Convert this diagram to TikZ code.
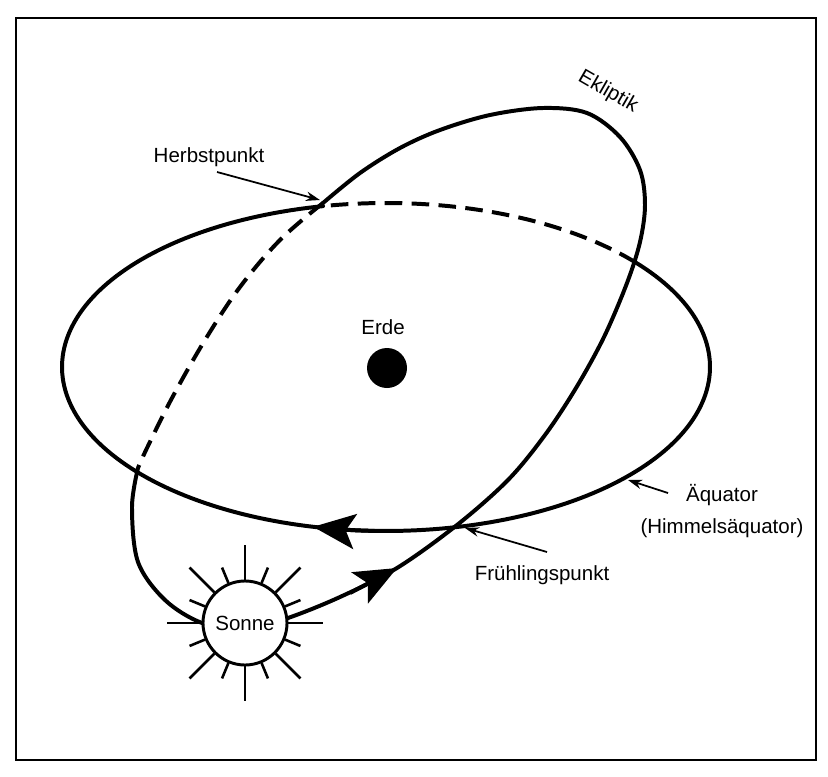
\documentclass[tikz,border=0pt]{standalone}
\usepackage{fontspec}
\setmainfont{Liberation Sans}
\usetikzlibrary{arrows.meta}
\begin{document}
\begin{tikzpicture}[x=0.03cm,y=-0.03cm,
  orbit/.style={line width=3.4pt,line cap=round},
  dashorbit/.style={line width=3.4pt,dash pattern=on 15pt off 8pt},
  lbl/.style={font=\fontsize{17.5}{20}\selectfont,inner sep=1pt},
  ptr/.style={line width=1.5pt,-{Stealth[length=12pt,width=8pt]}},
  big/.style={line width=3.4pt,-{Stealth[length=36pt,width=30pt,inset=8pt]}},
  ray/.style={line width=2.2pt}]
\useasboundingbox (0,0) rectangle (828,777);
\draw[line width=1.3pt] (16,18) rectangle (816,760);
% equator
\draw[orbit] plot[domain=-39.8:258.8,samples=200] ({386+324*cos(\x)},{367+164*sin(\x)});
\draw[dashorbit] plot[domain=-39.8:-101.2,samples=80] ({386+324*cos(\x)},{367+164*sin(\x)});
\draw[big] plot[domain=92:103,samples=12] ({386+324*cos(\x)},{367+164*sin(\x)});
% ecliptic
\draw[orbit] plot[smooth,tension=0.55] coordinates {(138,468) (132,507) (138,562) (165,600) (202,623) (245,630) (288,618) (340,597) (397,568) (457,525) (508,480) (545,435) (576,388) (604,337) (627,283) (640,242) (645,205) (640,170) (620,137) (587,113) (543,108) (490,115) (440,130) (400,148) (360,173) (323,203)};
\draw[dashorbit] plot[smooth,tension=0.6] coordinates {(323,203) (280,240) (240,287) (205,340) (172,398) (147,448) (138,468)};
\draw[big] (350,593) -- (397,568);
% earth
\node[circle,fill=black,minimum size=1.2cm,inner sep=0] (erde) at (387,368) {};
\node[lbl] (erdel) at (383,327) {Erde};
% sun
\node[circle,draw,line width=2.5pt,fill=white,minimum size=2.52cm,inner sep=0,font=\fontsize{17.5}{20}\selectfont] (sun) at (245,623) {Sonne};
\foreach \a in {0,45,...,315} \draw[ray] (sun.center) ++(\a:1.3cm) -- ++(\a:1.05cm);
\foreach \a in {22.5,67.5,...,337.5} \draw[ray] (sun.center) ++(\a:1.3cm) -- ++(\a:0.5cm);
% labels
\node[lbl,rotate=-30] (ekl) at (608,92) {Ekliptik};
\node[lbl] (herbst) at (209,157) {Herbstpunkt};
\coordinate (hp) at (320,200);
\draw[ptr] (217,172) -- (hp);
\node[lbl] (aeq) at (722,495) {Äquator};
\node[lbl] (himm) at (722,528) {(Himmelsäquator)};
\coordinate (ap) at (628,480);
\draw[ptr] (668,493) -- (ap);
\node[lbl] (fr) at (542,575) {Frühlingspunkt};
\coordinate (fp) at (465,528);
\draw[ptr] (547,552) -- (fp);
\end{tikzpicture}
\end{document}
